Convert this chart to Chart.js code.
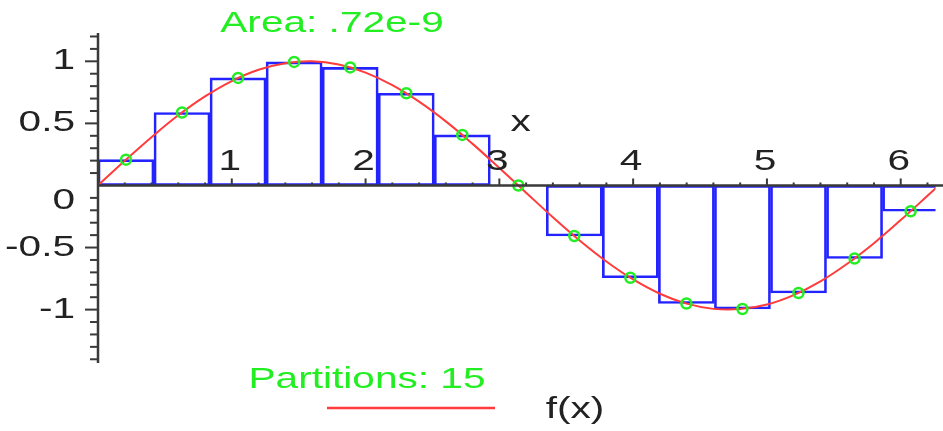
<!DOCTYPE html>
<html>
<head>
<meta charset="utf-8">
<script src="https://cdn.jsdelivr.net/npm/chart.js@4.4.1/dist/chart.umd.min.js"></script>
<style>
  html, body { margin: 0; padding: 0; background: #fff; }
  canvas { display: block; }
</style>
</head>
<body>
<canvas id="riemann" width="943" height="431"></canvas>
<script>
// midpoints of the 15 partitions on [0, 2pi] and f at each midpoint
const midX = [0.209, 0.628, 1.047, 1.466, 1.885, 2.304, 2.723, 3.142, 3.560, 3.979, 4.398, 4.817, 5.236, 5.655, 6.074]
const midY = [0.208, 0.588, 0.866, 0.995, 0.951, 0.743, 0.407, 0, -0.407, -0.743, -0.951, -0.995, -0.866, -0.588, -0.208]
const partWidth = 0.4189

// f(x) sampled along the axis
const curveX = [0, 0.2, 0.4, 0.6, 0.8, 1.0, 1.2, 1.4, 1.6, 1.8, 2.0, 2.2, 2.4, 2.6, 2.8, 3.0,
                3.2, 3.4, 3.6, 3.8, 4.0, 4.2, 4.4, 4.6, 4.8, 5.0, 5.2, 5.4, 5.6, 5.8, 6.0, 6.2, 6.3]
const curveY = [0, 0.199, 0.389, 0.565, 0.717, 0.841, 0.932, 0.985, 1.000, 0.974, 0.909, 0.808, 0.675, 0.516, 0.335, 0.141,
                -0.058, -0.256, -0.443, -0.612, -0.757, -0.872, -0.952, -0.994, -0.996, -0.959, -0.883, -0.773, -0.631, -0.465, -0.279, -0.083, 0.017]

const xTicks = [1, 2, 3, 4, 5, 6]
const yTicks = [-1, -0.5, 0, 0.5, 1]
const yTickLabels = ['-1', '-0.5', '0', '0.5', '1']

const titleText = 'Area: .72e-9'
const partitionText = 'Partitions: 15'
const curveName = 'f(x)'

const FONT = '29px "Liberation Sans", Arial, sans-serif'
const STRETCH = 1.4
const AXIS = '#3a3a3a'

function wideText(ctx, text, x, y, color, align) {
    ctx.save()
    ctx.font = FONT
    ctx.fillStyle = color
    ctx.textBaseline = 'middle'
    ctx.textAlign = align || 'center'
    ctx.translate(x, y)
    ctx.scale(STRETCH, 1)
    ctx.fillText(text, 0, 0)
    ctx.restore()
}

// axes crossing at the origin, Maple style
const mapleAxes = {
    id: 'mapleAxes',
    afterDatasetsDraw(chart) {
        const ctx = chart.ctx
        const xs = chart.scales.x
        const ys = chart.scales.y
        const x0 = xs.getPixelForValue(0)
        const y0 = ys.getPixelForValue(0)

        ctx.save()
        ctx.strokeStyle = AXIS
        ctx.lineWidth = 2.5
        ctx.beginPath()
        ctx.moveTo(x0, ys.top - 1)
        ctx.lineTo(x0, ys.bottom)
        ctx.moveTo(x0, y0)
        ctx.lineTo(chart.width, y0)
        ctx.stroke()

        // x ticks every 0.2, longer at integers
        ctx.lineWidth = 2
        for (let i = 1; i * 0.2 <= xs.max; i++) {
            const px = xs.getPixelForValue(i * 0.2)
            const len = i % 5 === 0 ? 7 : 3
            ctx.beginPath()
            ctx.moveTo(px, y0)
            ctx.lineTo(px, y0 - len)
            ctx.stroke()
        }
        // y ticks every 0.1, longer at halves
        for (let i = Math.ceil(ys.min * 10); i <= Math.floor(ys.max * 10); i++) {
            if (i === 0) continue
            const py = ys.getPixelForValue(i / 10)
            const len = i % 5 === 0 ? 13 : 8
            ctx.beginPath()
            ctx.moveTo(x0, py)
            ctx.lineTo(x0 - len, py)
            ctx.stroke()
        }
        ctx.restore()

        xTicks.forEach(v => {
            wideText(ctx, String(v), xs.getPixelForValue(v) - 2, y0 - 23, '#222')
        })
        yTicks.forEach((v, i) => {
            const py = ys.getPixelForValue(v) + (v === 0 ? 16 : 0)
            wideText(ctx, yTickLabels[i], 75, py, '#222', 'right')
        })
        wideText(ctx, 'x', xs.getPixelForValue(3.16), ys.getPixelForValue(0.5), '#222')

        // title and legend
        wideText(ctx, titleText, 332, 24, '#22ee22')
        wideText(ctx, partitionText, 367, 380, '#22ee22')
        ctx.save()
        ctx.strokeStyle = '#ff3b3b'
        ctx.lineWidth = 2.5
        ctx.beginPath()
        ctx.moveTo(327, 408)
        ctx.lineTo(495, 408)
        ctx.stroke()
        ctx.restore()
        wideText(ctx, curveName, 575, 410, '#222')
    }
}

const ctx = document.getElementById('riemann').getContext('2d')
new Chart(ctx, {
    type: 'bar',
    data: {
        datasets: [
            {
                type: 'scatter',
                label: 'midpoints',
                data: midX.map((x, i) => ({ x: x, y: midY[i] })),
                pointRadius: 5,
                pointBorderWidth: 2.5,
                pointBorderColor: '#22ee22',
                pointBackgroundColor: 'rgba(0,0,0,0)',
                order: 0
            },
            {
                type: 'line',
                label: curveName,
                data: curveX.map((x, i) => ({ x: x, y: curveY[i] })),
                borderColor: '#ff3b3b',
                borderWidth: 2,
                pointRadius: 0,
                tension: 0.4,
                order: 1
            },
            {
                type: 'bar',
                label: 'partitions',
                data: midX.map((x, i) => ({ x: x, y: midY[i] })),
                backgroundColor: 'rgba(0,0,0,0)',
                borderColor: '#2323ff',
                borderWidth: 2,
                borderSkipped: false,
                // one partition wide, measured on the x scale
                barThickness: c => {
                    const s = c.chart.scales.x
                    return s.getPixelForValue(partWidth) - s.getPixelForValue(0)
                },
                order: 2
            }
        ]
    },
    options: {
        responsive: false,
        devicePixelRatio: 1,
        animation: false,
        layout: { padding: { left: 98, right: 0, top: 34, bottom: 68 } },
        plugins: {
            legend: { display: false },
            tooltip: { enabled: false },
            title: { display: false }
        },
        scales: {
            x: { type: 'linear', display: false, min: 0, max: 6.26, offset: false },
            y: { type: 'linear', display: false, min: -1.43, max: 1.22 }
        }
    },
    plugins: [mapleAxes]
})
</script>
</body>
</html>
